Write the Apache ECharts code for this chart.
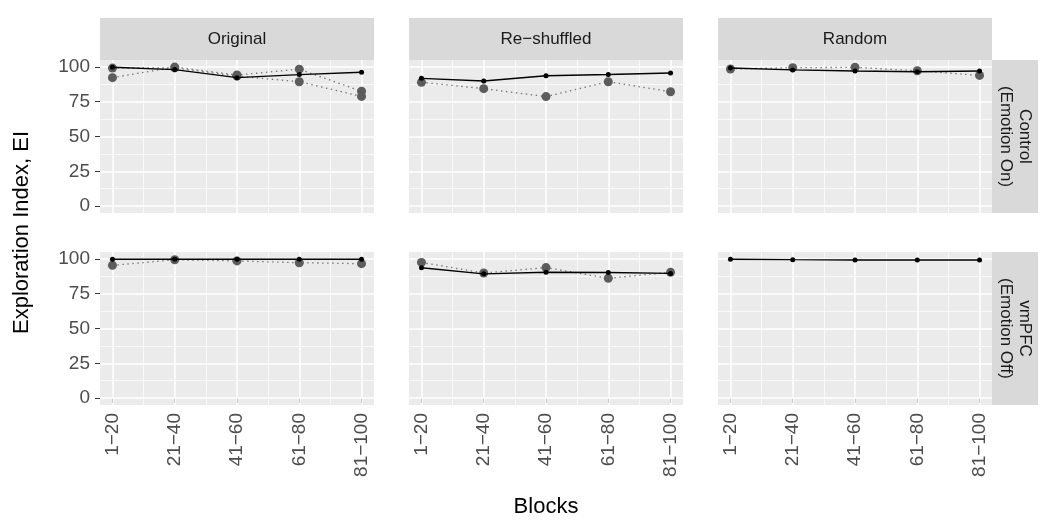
<!DOCTYPE html>
<html>
<head>
<meta charset="utf-8">
<script src="https://cdn.jsdelivr.net/npm/echarts@6/dist/echarts.min.js"></script>
<style>
  html, body { margin: 0; padding: 0; background: #ffffff; }
  #chart { width: 1049px; height: 520px; }
</style>
</head>
<body>
<div id="chart"></div>
<script>
// Block labels along the x axis and the facet headings
const blocks = ['1\u221220', '21\u221240', '41\u221260', '61\u221280', '81\u2212100'];
const columnNames = ['Original', 'Re\u2212shuffled', 'Random'];
const rowNames = ['Control\n(Emotion On)', 'vmPFC\n(Emotion Off)'];
const yTicks = [0, 25, 50, 75, 100];

// Exploration index per block: solid black series and dotted grey series
const controlOriginalMain = [99.8, 98.1, 92.3, 94.5, 96.2];
const controlOriginalGreyA = [92.3, 99.9, 94.2, 98.4, 82.5];
const controlOriginalGreyB = [99.2, 99.3, 93.4, 89.4, 78.8];
const controlReshuffledMain = [91.8, 89.9, 93.7, 94.6, 95.6];
const controlReshuffledGrey = [89.0, 84.4, 78.7, 89.4, 82.2];
const controlRandomMain = [99.2, 97.9, 97.1, 96.6, 97.1];
const controlRandomGrey = [98.5, 99.5, 99.7, 97.3, 93.9];
const vmpfcOriginalMain = [99.8, 99.8, 99.8, 99.8, 99.8];
const vmpfcOriginalGrey = [95.4, 99.4, 98.6, 97.3, 96.6];
const vmpfcReshuffledMain = [93.7, 89.3, 90.4, 90.3, 89.6];
const vmpfcReshuffledGrey = [97.5, 89.9, 93.8, 86.1, 90.4];
const vmpfcRandomMain = [99.8, 99.5, 99.3, 99.2, 99.2];

// panels[row][col] = { main, greys }
const panels = [
  [
    { main: controlOriginalMain, greys: [controlOriginalGreyA, controlOriginalGreyB] },
    { main: controlReshuffledMain, greys: [controlReshuffledGrey] },
    { main: controlRandomMain, greys: [controlRandomGrey] }
  ],
  [
    { main: vmpfcOriginalMain, greys: [vmpfcOriginalGrey] },
    { main: vmpfcReshuffledMain, greys: [vmpfcReshuffledGrey] },
    { main: vmpfcRandomMain, greys: [] }
  ]
];

// Layout of the facet grid (pixels)
const panelLeft = [100, 409, 718];
const panelWidth = 274;
const panelTop = [60, 252];
const panelHeight = 153;
const stripTop = 18;
const stripRightWidth = 46;

const FONT = 'Liberation Sans, Arial, sans-serif';
const AXIS_TEXT = '#4D4D4D';
const STRIP_TEXT = '#1A1A1A';
const TICK_FONT_SIZE = 19;

const xPositions = blocks.map((_, i) => i + 1);
const xMinor = xPositions.slice(0, -1).map(v => v + 0.5);
const yMinor = yTicks.slice(0, -1).map(v => v + 12.5);

const toPairs = vals => vals.map((v, i) => [i + 1, v]);

const grids = [], xAxes = [], yAxes = [], series = [], graphics = [];

panels.forEach((row, r) => {
  row.forEach((cell, c) => {
    const idx = grids.length;
    const isBottom = r === panels.length - 1;
    const isLeft = c === 0;
    grids.push({
      left: panelLeft[c], top: panelTop[r], width: panelWidth, height: panelHeight,
      show: true, backgroundColor: '#EBEBEB', borderWidth: 0, containLabel: false
    });
    xAxes.push({
      type: 'value', gridIndex: idx, min: 0.8, max: 5.2,
      axisLine: { show: false },
      splitLine: { show: false },
      axisTick: { show: isBottom, customValues: xPositions, length: 5, lineStyle: { color: '#333333', width: 1 } },
      axisLabel: {
        show: isBottom, customValues: xPositions, rotate: 90, margin: 8,
        color: AXIS_TEXT, fontFamily: FONT, fontSize: TICK_FONT_SIZE,
        formatter: v => blocks[Math.round(v) - 1] || ''
      }
    });
    yAxes.push({
      type: 'value', gridIndex: idx, min: -5, max: 105,
      axisLine: { show: false },
      splitLine: { show: false },
      axisTick: { show: isLeft, customValues: yTicks, length: 5, lineStyle: { color: '#333333', width: 1 } },
      axisLabel: {
        show: isLeft, customValues: yTicks, margin: 10,
        color: AXIS_TEXT, fontFamily: FONT, fontSize: TICK_FONT_SIZE
      }
    });

    // Panel grid lines (major and minor), drawn from the axis scales
    const lineItem = (key, v, w) => ({ [key]: v, lineStyle: { color: '#FFFFFF', width: w, type: 'solid' } });
    series.push({
      type: 'line', xAxisIndex: idx, yAxisIndex: idx, data: [], silent: true, z: 1,
      markLine: {
        silent: true, animation: false, symbol: ['none', 'none'], z: 1,
        label: { show: false }, emphasis: { disabled: true },
        data: [
          ...yMinor.map(v => lineItem('yAxis', v, 0.7)),
          ...xMinor.map(v => lineItem('xAxis', v, 0.7)),
          ...yTicks.map(v => lineItem('yAxis', v, 1.5)),
          ...xPositions.map(v => lineItem('xAxis', v, 1.5))
        ]
      }
    });

    cell.greys.forEach(g => {
      series.push({
        type: 'line', xAxisIndex: idx, yAxisIndex: idx, data: toPairs(g),
        symbol: 'circle', symbolSize: 9, showSymbol: true, z: 3,
        itemStyle: { color: '#5C5C5C' },
        lineStyle: { color: '#707070', width: 1.3, type: [1.4, 3.6] },
        emphasis: { disabled: true }, animation: false
      });
    });
    series.push({
      type: 'line', xAxisIndex: idx, yAxisIndex: idx, data: toPairs(cell.main),
      symbol: 'circle', symbolSize: 5, showSymbol: true, z: 4,
      itemStyle: { color: '#000000' },
      lineStyle: { color: '#000000', width: 1.4 },
      emphasis: { disabled: true }, animation: false
    });
  });
});

// Column strips
columnNames.forEach((name, c) => {
  graphics.push({
    type: 'rect', silent: true,
    shape: { x: panelLeft[c], y: stripTop, width: panelWidth, height: panelTop[0] - stripTop },
    style: { fill: '#D9D9D9' }
  });
  graphics.push({
    type: 'text', silent: true,
    x: panelLeft[c] + panelWidth / 2, y: (stripTop + panelTop[0]) / 2,
    style: { text: name, fill: STRIP_TEXT, font: '17px ' + FONT, align: 'center', verticalAlign: 'middle' }
  });
});

// Row strips on the right
const stripRightX = panelLeft[2] + panelWidth;
rowNames.forEach((name, r) => {
  graphics.push({
    type: 'rect', silent: true,
    shape: { x: stripRightX, y: panelTop[r], width: stripRightWidth, height: panelHeight },
    style: { fill: '#D9D9D9' }
  });
  graphics.push({
    type: 'text', silent: true, rotation: -Math.PI / 2,
    x: stripRightX + stripRightWidth / 2, y: panelTop[r] + panelHeight / 2,
    style: { text: name, fill: STRIP_TEXT, font: '17px ' + FONT, align: 'center', verticalAlign: 'middle', lineHeight: 19 }
  });
});

// Axis titles
graphics.push({
  type: 'text', silent: true, rotation: Math.PI / 2,
  x: 22, y: (panelTop[0] + panelTop[1] + panelHeight) / 2,
  style: { text: 'Exploration Index, EI', fill: '#000000', font: '22px ' + FONT, align: 'center', verticalAlign: 'middle' }
});
graphics.push({
  type: 'text', silent: true,
  x: (panelLeft[0] + panelLeft[2] + panelWidth) / 2, y: 507,
  style: { text: 'Blocks', fill: '#000000', font: '22px ' + FONT, align: 'center', verticalAlign: 'middle' }
});

const chart = echarts.init(document.getElementById('chart'), null, { renderer: 'canvas' });
chart.setOption({
  animation: false,
  backgroundColor: '#FFFFFF',
  grid: grids,
  xAxis: xAxes,
  yAxis: yAxes,
  series: series,
  graphic: graphics
});
</script>
</body>
</html>
